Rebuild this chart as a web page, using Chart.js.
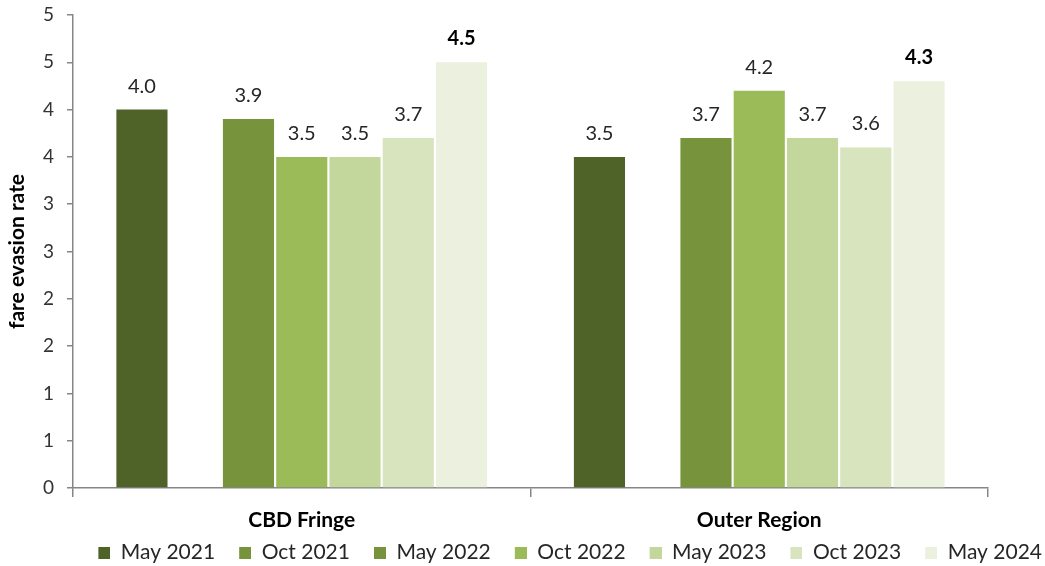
<!DOCTYPE html>
<html><head><meta charset="utf-8">
<script src="https://cdn.jsdelivr.net/npm/chart.js@4"></script>
<style>html,body{margin:0;padding:0;background:#fff}#wrap{width:1045px;height:566px;position:relative}</style>
</head><body><div id="wrap"><canvas id="c"></canvas></div>
<script>
const categories = ['CBD Fringe', 'Outer Region'];
const seriesNames = ['May 2021', 'Oct 2021', 'May 2022', 'Oct 2022', 'May 2023', 'Oct 2023', 'May 2024'];
const may2021 = [4.0, 3.5];
const oct2021 = [null, null];
const may2022 = [3.9, 3.7];
const oct2022 = [3.5, 4.2];
const may2023 = [3.5, 3.7];
const oct2023 = [3.7, 3.6];
const may2024 = [4.5, 4.3];
const yTickLabels = ['0', '1', '1', '2', '2', '3', '3', '4', '4', '5', '5'];
const seriesColors = ['#4F6228', '#77933C', '#77933C', '#9BBB59', '#C3D69B', '#D7E4BD', '#EBF1DE'];
const seriesData = [may2021, oct2021, may2022, oct2022, may2023, oct2023, may2024];

Chart.defaults.font.family = 'Lato, "Open Sans", sans-serif';

// legend marker: 12px square at the right end of a wider transparent strip
function makeMarker(color, w, s) {
  const c = document.createElement('canvas');
  c.width = w; c.height = s;
  const g = c.getContext('2d');
  g.fillStyle = color;
  g.fillRect(w - s, 0, s, s);
  return c;
}

const labelPlugin = {
  id: 'barLabels',
  afterDatasetsDraw(chart) {
    const ctx = chart.ctx;
    chart.data.datasets.forEach((ds, i) => {
      const meta = chart.getDatasetMeta(i);
      meta.data.forEach((bar, j) => {
        const v = ds.data[j];
        if (v == null) return;
        const last = i === chart.data.datasets.length - 1;
        ctx.save();
        ctx.font = (last ? 'bold ' : '') + '20px Lato, sans-serif';
        ctx.fillStyle = last ? '#000000' : '#262626';
        ctx.textAlign = 'center';
        ctx.textBaseline = 'alphabetic';
        ctx.fillText(v.toFixed(1), bar.x, bar.y - 17);
        ctx.restore();
      });
    });
  }
};

new Chart(document.getElementById('c'), {
  type: 'bar',
  data: {
    labels: categories,
    datasets: seriesNames.map((n, i) => ({
      label: n,
      data: seriesData[i],
      backgroundColor: seriesColors[i],
      borderWidth: 0,
      barPercentage: 0.96,
      categoryPercentage: 0.815
    }))
  },
  options: {
    responsive: true,
    maintainAspectRatio: false,
    animation: false,
    layout: { padding: { left: 0, right: -5, top: 15, bottom: -7 } },
    plugins: {
      legend: {
        position: 'bottom',
        align: 'end',
        labels: {
          usePointStyle: true,
          pointStyleWidth: 28,
          boxHeight: 12,
          padding: 8,
          font: { size: 21 }, color: '#262626',
          generateLabels(chart) {
            const items = Chart.defaults.plugins.legend.labels.generateLabels(chart);
            items.forEach(it => { it.pointStyle = makeMarker(it.fillStyle, 28, 12); });
            return items;
          }
        }
      },
      tooltip: { enabled: false }
    },
    scales: {
      x: {
        afterFit(s) { s.height = 46; },
        grid: { display: true, drawOnChartArea: false, offset: true, tickLength: 9, color: '#868686', lineWidth: 1.5 },
        border: { color: '#868686', width: 1.5 },
        ticks: { font: { size: 21, weight: 'bold' }, color: '#000000', padding: 11 }
      },
      y: {
        min: 0, max: 5,
        afterFit(s) { s.width = 73; },
        grid: { display: true, drawOnChartArea: false, tickLength: 6, color: '#868686', lineWidth: 1.5 },
        border: { color: '#868686', width: 1.5 },
        ticks: {
          stepSize: 0.5, font: { size: 19, lineHeight: 0.1 }, color: '#333333', padding: 13,
          callback: (v, idx) => yTickLabels[idx]
        },
        title: { display: true, text: 'fare evasion rate', font: { size: 21, weight: 'bold' }, color: '#000000', padding: { top: 5, bottom: 0 } }
      },
      yR: {
        position: 'right',
        afterFit(s) { s.width = 62; },
        grid: { display: false },
        border: { display: false },
        ticks: { display: false }
      }
    }
  },
  plugins: [labelPlugin]
});
</script>
</body></html>
